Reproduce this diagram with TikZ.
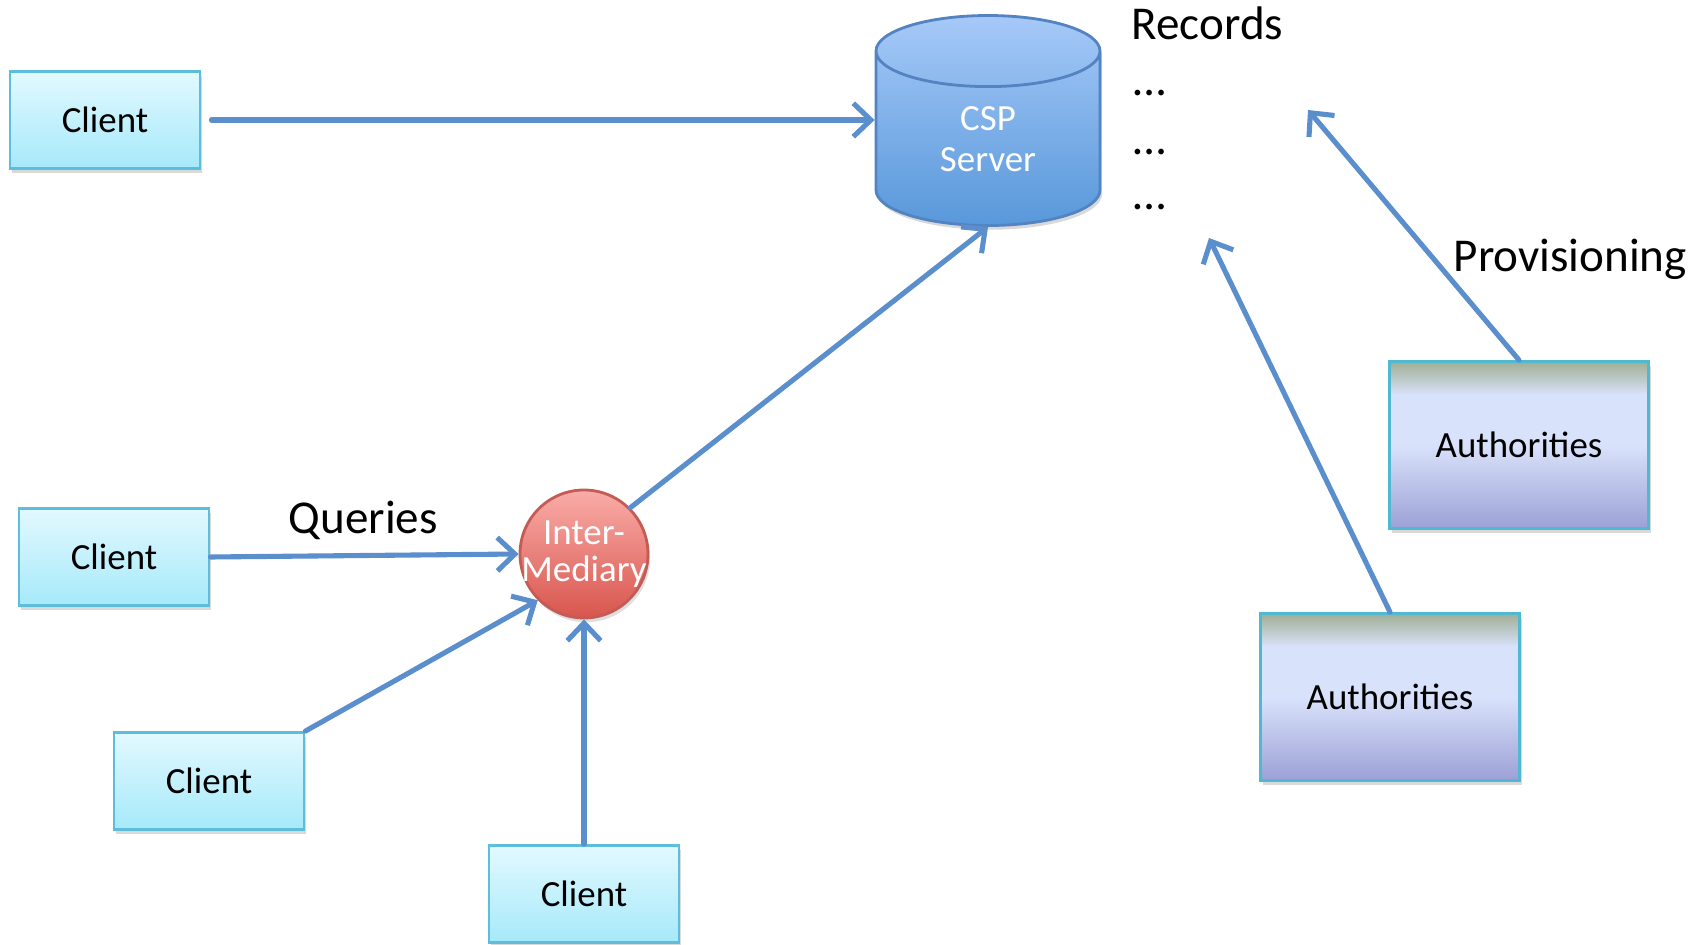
\documentclass[tikz,border=0pt]{standalone}
\usepackage{fontspec}
\setmainfont{Carlito}
\usepackage{tikz}
\usetikzlibrary{shapes,arrows.meta,shadows}
\definecolor{linkblue}{RGB}{90,142,205}
\definecolor{clienttop}{RGB}{226,249,255}
\definecolor{clientbot}{RGB}{166,233,250}
\definecolor{clientline}{RGB}{92,190,218}
\definecolor{csptop}{RGB}{166,201,248}
\definecolor{cspbot}{RGB}{88,152,218}
\definecolor{cspline}{RGB}{84,131,193}
\definecolor{intertop}{RGB}{250,172,168}
\definecolor{interbot}{RGB}{216,86,78}
\definecolor{interline}{RGB}{196,92,86}
\definecolor{authtop}{RGB}{160,174,148}
\definecolor{authmid}{RGB}{217,226,251}
\definecolor{authbot}{RGB}{156,160,214}
\definecolor{authline}{RGB}{80,184,208}
\pgfdeclareverticalshading{authshade}{100bp}{color(0bp)=(authbot); color(25bp)=(authbot); color(50bp)=(authmid); color(65bp)=(authmid); color(75bp)=(authtop); color(100bp)=(authtop)}
\tikzstyle{box} = [rectangle, line width=0.8pt, inner sep=0pt, drop shadow={shadow xshift=0.6pt, shadow yshift=-1.2pt, opacity=0.3}]
\tikzstyle{client} = [box, draw=clientline, top color=clienttop, bottom color=clientbot, minimum width=1.9cm, minimum height=0.97cm, font=\fontsize{10.5}{12}\selectfont]
\tikzstyle{authority} = [box, draw=authline, shade, shading=authshade, minimum width=2.59cm, minimum height=1.67cm, font=\fontsize{10.5}{12}\selectfont]
\tikzstyle{server} = [cylinder, shape border rotate=90, aspect=0.74, draw=cspline, line width=0.8pt, top color=csptop, bottom color=cspbot, minimum width=2.24cm, minimum height=2.10cm, inner sep=0pt, text=white, align=center, font=\fontsize{10.5}{11.6}\selectfont, drop shadow={shadow xshift=0.6pt, shadow yshift=-1.2pt, opacity=0.3}]
\tikzstyle{mediary} = [circle, draw=interline, line width=0.8pt, top color=intertop, bottom color=interbot, minimum size=1.28cm, inner sep=0pt, text=white, align=center, font=\fontsize{10.5}{10.6}\selectfont, drop shadow={shadow xshift=0.6pt, shadow yshift=-1.2pt, opacity=0.25}]
\tikzstyle{bigtext} = [inner sep=0pt, anchor=base west, font=\fontsize{13.4}{16}\selectfont]
\tikzstyle{arrow} = [draw=linkblue, line width=1.45pt, line cap=round, -{Straight Barb[length=5pt, width=9.5pt]}]

\begin{document}
\begin{tikzpicture}
  \useasboundingbox (0,0) rectangle (17.04,9.44);

  \node (client1) [client] at (1.05, 8.24) {Client};
  \node (client2) [client] at (1.14, 3.87) {Client};
  \node (client3) [client] at (2.09, 1.63) {Client};
  \node (client4) [client] at (5.84, 0.50) {Client};

  \node (inter) [mediary] at (5.84, 3.90) {\makebox[0pt]{Inter-}\\\makebox[0pt]{Mediary}};
  \node (csp) [server] at (9.88, 8.05) {CSP\\Server};

  \node (auth1) [authority] at (15.19, 4.99) {Authorities};
  \node (auth2) [authority] at (13.90, 2.47) {Authorities};

  \node (records) [bigtext] at (11.31, 9.04) {Records};
  \node (dots1) [bigtext] at (11.33, 8.48) {…};
  \node (dots2) [bigtext] at (11.33, 7.89) {…};
  \node (dots3) [bigtext] at (11.33, 7.34) {…};
  \node (queries) [bigtext] at (2.88, 4.10) {Queries};
  \node (prov) [bigtext] at (14.53, 6.72) {Provisioning};

  \coordinate (prov1) at (13.08, 8.34);
  \coordinate (prov2) at (12.09, 7.06);

  % queries
  \draw[arrow] ([xshift=0.1cm]client1.east) -- (csp.west |- client1.east);
  \draw[arrow] (client2.east) -- (inter.west);
  \draw[arrow] (client3.north east) -- (inter.south west);
  \draw[arrow] (client4.north) -- (inter.south);
  \draw[arrow] (inter.north east) -- (csp.south);

  % provisioning
  \draw[arrow] (auth1.north) -- (prov1);
  \draw[arrow] (auth2.north) -- (prov2);
\end{tikzpicture}
\end{document}
